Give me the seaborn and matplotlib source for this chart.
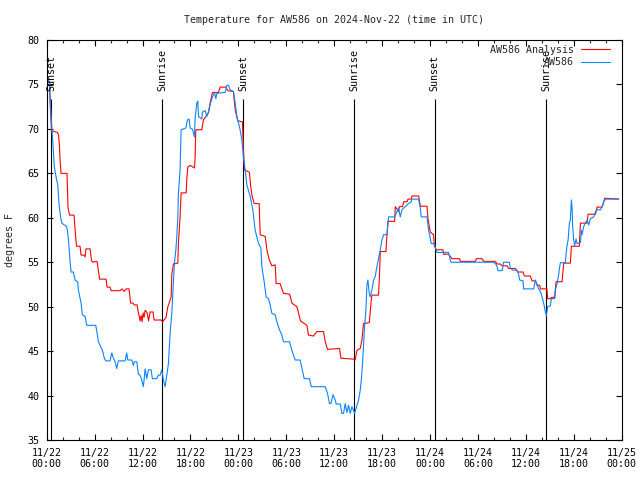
import matplotlib
matplotlib.use("Agg")
import matplotlib.pyplot as plt
import matplotlib.dates as mdates
import pandas as pd
import seaborn as sns

# ---- data (hours since 2024-11-22 00:00 UTC, degrees F) ----
analysis_hours = [0.10, 0.35, 0.45, 0.60, 0.91, 1.35, 1.48, 1.60, 1.67, 1.79,
                  2.54, 2.67, 2.86, 3.42, 3.61, 3.73, 4.17, 4.30, 4.67, 4.80,
                  4.92, 5.43, 5.61, 5.74, 6.30, 6.62, 7.43, 7.56, 7.93, 8.06,
                  9.19, 9.44, 9.69, 9.94, 10.31, 10.50, 10.81, 10.94, 11.32, 11.44,
                  11.57, 11.69, 11.82, 11.94, 12.07, 12.19, 12.32, 12.57, 12.76, 12.94,
                  13.32, 13.45, 14.32, 14.51, 14.95, 15.14, 15.58, 15.66, 15.86, 16.42,
                  16.49, 16.70, 16.83, 17.46, 17.54, 17.67, 17.96, 18.50, 18.58, 18.67,
                  19.42, 19.62, 20.25, 20.46, 20.75, 21.50, 21.72, 22.43, 22.68, 23.38,
                  23.60, 23.93, 24.51, 24.64, 24.76, 25.39, 25.54, 25.73, 25.98, 26.60,
                  26.73, 27.36, 27.57, 27.86, 28.19, 28.61, 28.73, 29.23, 29.65, 30.43,
                  30.70, 31.33, 31.53, 31.78, 32.58, 32.78, 33.41, 33.83, 34.66, 34.87,
                  35.16, 36.67, 36.84, 38.42, 38.63, 38.85, 39.26, 39.47, 39.67, 40.39,
                  40.64, 40.73, 41.55, 41.68, 41.77, 42.48, 42.61, 42.73, 43.56, 43.65,
                  44.06, 44.15, 44.56, 44.69, 45.11, 45.24, 45.65, 45.74, 46.57, 46.78,
                  47.62, 47.74, 48.03, 48.44, 48.53, 48.78, 49.62, 49.70, 50.32, 50.75,
                  51.70, 51.79, 53.67, 53.80, 54.51, 54.71, 56.18, 56.39, 56.80, 57.02,
                  57.64, 57.84, 58.68, 58.97, 59.65, 59.81, 60.56, 60.78, 61.19, 61.40,
                  61.75, 61.82, 62.63, 62.73, 63.07, 63.19, 63.61, 63.78, 64.53, 64.74,
                  65.57, 65.70, 66.70, 66.83, 67.67, 67.79, 68.71, 68.92, 69.55, 69.75,
                  69.87, 71.63]
analysis_temp = [75.4, 75.3, 72.5, 69.8, 69.7, 69.6, 69.3, 68.0, 66.5, 65.0,
                 65.0, 61.1, 60.3, 60.3, 58.0, 56.8, 56.8, 55.8, 55.8, 55.6,
                 56.5, 56.5, 55.2, 55.0, 55.1, 53.1, 53.1, 52.2, 52.2, 51.8,
                 51.8, 52.0, 51.7, 52.0, 52.0, 50.4, 50.4, 50.2, 50.2, 49.5,
                 49.0, 48.4, 49.0, 48.3, 49.3, 48.8, 49.6, 49.3, 48.4, 49.4,
                 49.4, 48.5, 48.5, 48.3, 48.8, 49.9, 51.1, 53.6, 54.8, 54.9,
                 57.1, 60.1, 62.8, 62.8, 64.3, 65.7, 65.9, 65.6, 66.7, 69.9,
                 69.9, 71.0, 71.8, 72.9, 74.1, 74.1, 74.7, 74.7, 74.3, 74.2,
                 72.1, 70.9, 70.8, 67.6, 65.4, 65.1, 63.5, 62.4, 61.6, 61.6,
                 58.1, 57.9, 56.4, 55.3, 54.6, 54.7, 52.6, 52.6, 51.5, 51.4,
                 50.4, 50.0, 49.3, 48.4, 47.9, 46.8, 46.7, 47.2, 47.2, 46.1,
                 45.2, 45.3, 44.2, 44.1, 44.0, 45.1, 45.3, 46.25, 48.1, 48.2,
                 50.75, 51.3, 51.3, 53.75, 56.2, 56.2, 58.1, 59.6, 59.6, 61.25,
                 60.7, 61.25, 61.25, 61.8, 61.8, 62.1, 62.1, 62.45, 62.45, 61.3,
                 61.3, 59.9, 58.4, 58.1, 56.9, 56.4, 56.4, 55.9, 55.9, 55.4,
                 55.4, 55.1, 55.1, 55.4, 55.4, 55.1, 55.1, 54.8, 54.8, 54.6,
                 54.6, 54.3, 54.3, 53.9, 53.9, 53.45, 53.45, 52.9, 52.9, 52.4,
                 52.4, 52.0, 52.0, 50.9, 50.9, 51.05, 51.05, 52.8, 52.8, 54.9,
                 54.9, 56.8, 56.8, 59.4, 59.4, 60.4, 60.4, 61.2, 61.2, 61.8,
                 62.2, 62.1]

station_hours = [0.00, 0.20, 0.35, 0.41, 0.63, 0.83, 0.95, 1.17, 1.38, 1.54,
                 1.67, 1.88, 2.51, 2.71, 2.92, 3.05, 3.33, 3.55, 3.88, 3.96,
                 4.30, 4.46, 4.80, 5.01, 6.14, 6.39, 6.47, 6.97, 7.22, 7.39,
                 7.93, 8.15, 8.35, 8.56, 8.77, 8.97, 9.81, 10.02, 10.15, 10.65,
                 10.85, 10.98, 11.28, 11.48, 11.69, 11.90, 12.10, 12.23, 12.32, 12.53,
                 12.73, 13.07, 13.23, 13.78, 13.98, 14.20, 14.41, 14.61, 14.82, 15.04,
                 15.24, 15.33, 15.45, 15.66, 15.86, 15.99, 16.17, 16.29, 16.42, 16.49,
                 16.70, 16.83, 17.42, 17.62, 17.83, 17.96, 18.25, 18.50, 18.58, 18.80,
                 18.92, 19.00, 19.42, 19.50, 19.84, 20.05, 20.25, 20.46, 20.68, 21.00,
                 21.18, 21.30, 22.34, 22.56, 22.76, 22.97, 23.38, 23.60, 23.81, 24.22,
                 24.44, 24.64, 24.85, 25.06, 25.48, 25.81, 26.10, 26.52, 26.82, 26.94,
                 27.23, 27.48, 27.77, 27.98, 28.19, 28.61, 28.82, 29.15, 29.45, 29.65,
                 30.40, 30.70, 31.11, 31.74, 31.95, 32.24, 32.91, 33.12, 34.87, 35.16,
                 35.41, 35.59, 35.84, 36.13, 36.25, 36.75, 36.97, 37.17, 37.38, 37.59,
                 37.79, 38.01, 38.22, 38.55, 38.85, 39.05, 39.26, 39.39, 39.55, 39.67,
                 39.80, 39.97, 40.10, 40.22, 40.39, 40.51, 40.73, 40.93, 41.14, 41.35,
                 41.55, 41.77, 41.98, 42.18, 42.61, 42.73, 42.81, 43.56, 43.86, 44.06,
                 44.27, 44.48, 44.90, 45.31, 45.65, 45.74, 46.57, 46.78, 46.90, 47.62,
                 47.82, 48.16, 48.57, 48.66, 48.87, 50.32, 50.54, 50.63, 55.76, 56.18,
                 56.39, 56.51, 57.02, 57.22, 57.93, 58.06, 58.39, 58.90, 59.10, 59.22,
                 59.65, 59.72, 60.98, 61.19, 61.40, 61.60, 61.82, 62.03, 62.23, 62.44,
                 62.57, 62.73, 63.07, 63.19, 63.61, 63.70, 63.91, 64.11, 64.20, 64.32,
                 64.95, 65.04, 65.16, 65.29, 65.45, 65.57, 65.70, 65.79, 65.86, 65.99,
                 66.11, 66.29, 66.41, 66.83, 66.95, 67.04, 67.24, 67.45, 67.67, 67.87,
                 68.08, 68.49, 68.71, 68.92, 69.33, 69.55, 69.75, 69.96, 71.63]
station_temp = [75.6, 75.5, 75.3, 73.5, 70.25, 67.6, 65.75, 64.6, 63.7, 61.6,
                60.5, 59.4, 59.0, 57.7, 55.1, 53.9, 53.9, 53.0, 52.8, 51.9,
                50.4, 49.1, 48.9, 47.9, 47.9, 46.6, 46.05, 45.1, 44.2, 43.9,
                43.9, 44.8, 44.2, 43.8, 43.05, 43.9, 43.9, 44.8, 44.0, 44.0,
                43.4, 43.8, 43.8, 42.4, 42.3, 41.75, 41.0, 42.1, 43.0, 41.9,
                42.9, 42.9, 41.9, 41.9, 42.3, 42.3, 42.9, 41.75, 41.0, 42.3,
                43.6, 45.1, 47.0, 49.25, 52.6, 54.9, 56.4, 57.9, 60.1, 62.75,
                65.4, 69.9, 70.1, 71.0, 71.1, 70.1, 69.95, 69.1, 71.2, 72.9,
                73.1, 71.4, 71.1, 71.9, 72.05, 71.4, 71.9, 72.7, 73.4, 74.1,
                73.4, 74.0, 74.1, 74.9, 74.9, 74.4, 74.2, 72.9, 71.4, 69.9,
                68.75, 66.7, 65.4, 63.7, 62.4, 60.9, 58.6, 57.1, 56.6, 54.5,
                52.8, 51.1, 50.9, 50.2, 49.25, 49.1, 48.3, 47.4, 46.8, 46.05,
                46.05, 45.1, 44.0, 44.0, 43.1, 41.9, 41.9, 41.0, 41.0, 40.25,
                39.1, 39.1, 40.1, 39.5, 39.05, 39.05, 38.0, 38.0, 39.1, 38.1,
                38.9, 38.0, 38.75, 38.0, 38.9, 39.5, 40.6, 41.75, 43.6, 45.5,
                47.75, 49.6, 52.4, 53.0, 51.5, 51.1, 51.9, 53.0, 53.4, 54.5,
                55.4, 56.4, 57.5, 58.1, 58.1, 59.4, 60.1, 60.1, 60.7, 61.1,
                60.1, 60.9, 61.25, 61.6, 61.8, 62.1, 62.1, 61.1, 60.1, 60.1,
                58.6, 57.1, 57.1, 56.6, 56.1, 56.1, 55.25, 55.0, 55.0, 54.9,
                54.5, 54.05, 54.05, 55.0, 55.0, 54.3, 54.1, 54.1, 53.6, 53.0,
                52.9, 52.0, 52.0, 53.0, 52.5, 52.0, 51.7, 51.1, 50.4, 49.4,
                49.0, 50.0, 50.1, 50.9, 50.9, 51.9, 52.6, 53.6, 54.3, 54.95,
                54.95, 56.0, 56.9, 57.5, 59.4, 59.75, 62.0, 61.1, 59.0, 57.5,
                56.9, 57.6, 57.1, 57.2, 58.6, 58.1, 59.0, 59.45, 59.75, 59.2,
                59.9, 60.1, 60.7, 60.9, 60.9, 61.25, 61.8, 62.1, 62.1]

event_hours = [0.58, 14.49, 24.64, 38.51, 48.57, 62.57]
event_labels = ["Sunset", "Sunrise", "Sunset", "Sunrise", "Sunset", "Sunrise"]

series_names = ["AW586 Analysis", "AW586"]
series_colors = ["#ff0000", "#0a84ff"]
start = pd.Timestamp("2024-11-22 00:00")
title = "Temperature for AW586 on 2024-Nov-22 (time in UTC)"

# ---- style ----
sns.set_style("ticks")
plt.rcParams["font.family"] = ["DejaVu Sans Mono", "DejaVu Sans"]
FS = 7.2

fig = plt.figure(figsize=(6.4, 4.8), dpi=100)
ax = fig.add_axes([0.073, 0.0833, 0.8984, 0.8334])

df_a = pd.DataFrame({"time": start + pd.to_timedelta(analysis_hours, unit="h"),
                     "temp": analysis_temp})
df_s = pd.DataFrame({"time": start + pd.to_timedelta(station_hours, unit="h"),
                     "temp": station_temp})

sns.lineplot(data=df_a, x="time", y="temp", ax=ax, color=series_colors[0],
             linewidth=0.8, label=series_names[0], estimator=None, sort=False)
sns.lineplot(data=df_s, x="time", y="temp", ax=ax, color=series_colors[1],
             linewidth=0.8, label=series_names[1], estimator=None, sort=False)

# sunrise / sunset markers
for h, lab in zip(event_hours, event_labels):
    t = start + pd.Timedelta(hours=h)
    ax.vlines(t, 35, 73.4, color="black", linewidth=0.8, zorder=1)
    ax.text(t, 74.3, lab, rotation=90, ha="center", va="bottom",
            fontsize=FS, color="black")

ax.set_xlim(start, start + pd.Timedelta(days=3))
ax.set_ylim(35, 80)
ax.set_yticks(range(35, 81, 5))
ax.xaxis.set_major_locator(mdates.HourLocator(byhour=[0, 6, 12, 18]))
ax.xaxis.set_minor_locator(mdates.HourLocator(interval=2))
ax.xaxis.set_major_formatter(mdates.DateFormatter("%m/%d\n%H:%M"))

ax.tick_params(axis="both", which="major", direction="in", length=4.5, width=0.8,
               top=True, right=True, labelsize=FS, colors="black")
ax.tick_params(axis="y", which="major", pad=5)
ax.tick_params(axis="x", which="major", pad=5.5)
ax.tick_params(axis="x", which="minor", direction="in", length=2.5, width=0.8,
               top=True, bottom=True)
for lbl in ax.get_xticklabels():
    lbl.set_multialignment("center")

for sp in ax.spines.values():
    sp.set_linewidth(0.8)
    sp.set_color("black")

ax.set_xlabel("")
ax.set_ylabel("degrees F", fontsize=FS, labelpad=9)
ax.set_title(title, fontsize=FS, pad=12)

leg = ax.legend(loc="upper right", bbox_to_anchor=(0.9797, 0.9875), frameon=False,
                markerfirst=False, fontsize=FS, handlelength=2.9, handletextpad=0.7,
                labelspacing=0.25, borderpad=0, borderaxespad=0)

fig.savefig("out.png", dpi=100)
